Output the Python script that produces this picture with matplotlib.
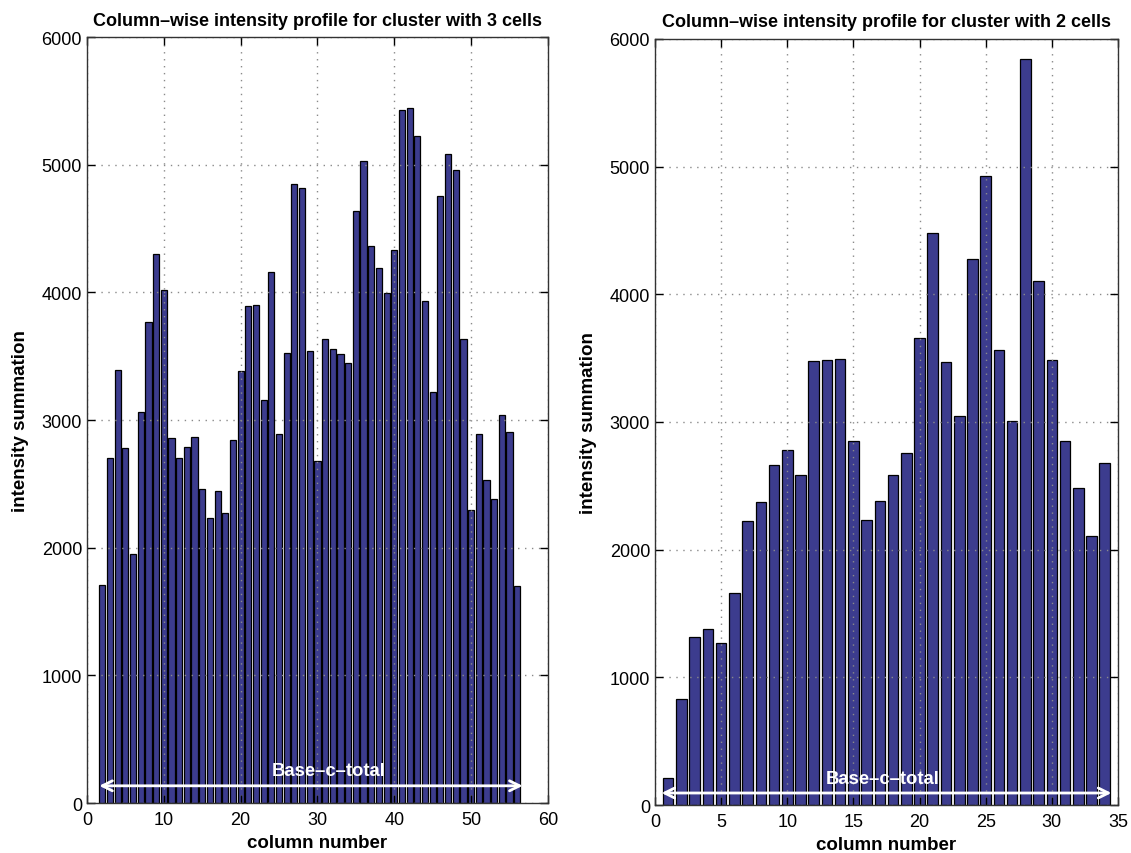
import matplotlib
matplotlib.use("Agg")
import matplotlib.pyplot as plt
import numpy as np

plt.rcParams['font.family'] = ['Liberation Sans', 'DejaVu Sans']

# cluster with 3 cells: columns 2..56
cols_3 = list(range(2, 57))
sums_3 = [1710, 2700, 3390, 2780, 1950, 3060, 3770, 4300, 4020, 2860,
          2700, 2790, 2870, 2460, 2235, 2445, 2275, 2845, 3385, 3890,
          3900, 3160, 4160, 2890, 3525, 4850, 4820, 3540, 2680, 3635,
          3560, 3515, 3443, 4636, 5030, 4365, 4190, 3995, 4328, 5432,
          5440, 5225, 3930, 3216, 4756, 5086, 4960, 3634, 2295, 2890,
          2528, 2381, 3040, 2904, 1697]

# cluster with 2 cells: columns 1..34
cols_2 = list(range(1, 35))
sums_2 = [210, 830, 1318, 1380, 1266, 1660, 2225, 2370, 2660, 2778,
          2588, 3474, 3484, 3492, 2851, 2231, 2378, 2588, 2760, 3659,
          4477, 3467, 3044, 4276, 4927, 3567, 3008, 5845, 4102, 3487,
          2851, 2484, 2109, 2680]

titles = ["Column\u2013wise intensity profile for cluster with 3 cells",
          "Column\u2013wise intensity profile for cluster with 2 cells"]
xticks_3 = [0, 10, 20, 30, 40, 50, 60]
xticks_2 = [0, 5, 10, 15, 20, 25, 30, 35]
yticks = [0, 1000, 2000, 3000, 4000, 5000, 6000]

bar_color = '#3c3c8e'

fig = plt.figure(figsize=(11.31, 8.54), dpi=100)
ax1 = fig.add_axes([0.0769, 0.0585, 0.4076, 0.897])
ax2 = fig.add_axes([0.5791, 0.0562, 0.4094, 0.897])


def draw_panel(ax, cols, sums, title, xticks, arrow_span, arrow_y, text_x):
    ax.bar(cols, sums, width=0.8, color=bar_color, edgecolor='black',
           linewidth=0.9, zorder=2)
    ax.set_xlim(xticks[0], xticks[-1])
    ax.set_ylim(0, 6000)
    ax.set_xticks(xticks)
    ax.set_yticks(yticks)
    ax.grid(True, color='#8a8a8a', linestyle=(0, (1, 4)), linewidth=1.0, zorder=1)
    ax.set_axisbelow(False)
    ax.tick_params(direction='in', length=6, width=1, top=True, right=True,
                   labelsize=13, colors='black')
    ax.tick_params(axis='x', pad=6)
    for sp in ax.spines.values():
        sp.set_linewidth(1.0)
        sp.set_color('#333333')
        sp.set_zorder(3)
    ax.set_title(title, fontsize=13, fontweight='bold', pad=9)
    ax.set_xlabel('column number', fontsize=13.5, fontweight='bold', labelpad=4)
    ax.set_ylabel('intensity summation', fontsize=13.5, fontweight='bold', labelpad=9)
    # white span arrow along the base of the bars
    ax.annotate('', xy=(arrow_span[1], arrow_y), xytext=(arrow_span[0], arrow_y),
                arrowprops=dict(arrowstyle='<->', color='white', lw=2,
                                mutation_scale=18, shrinkA=0, shrinkB=0),
                zorder=4)
    ax.text(text_x, arrow_y + 50, 'Base\u2013c\u2013total', color='white',
            fontsize=13.3, fontweight='bold', ha='center', va='bottom', zorder=4)


draw_panel(ax1, cols_3, sums_3, titles[0], xticks_3, (1.6, 56.7), 135, 31.5)
draw_panel(ax2, cols_2, sums_2, titles[1], xticks_2, (0.5, 34.5), 94, 17.2)

fig.savefig('out.png', dpi=100)
